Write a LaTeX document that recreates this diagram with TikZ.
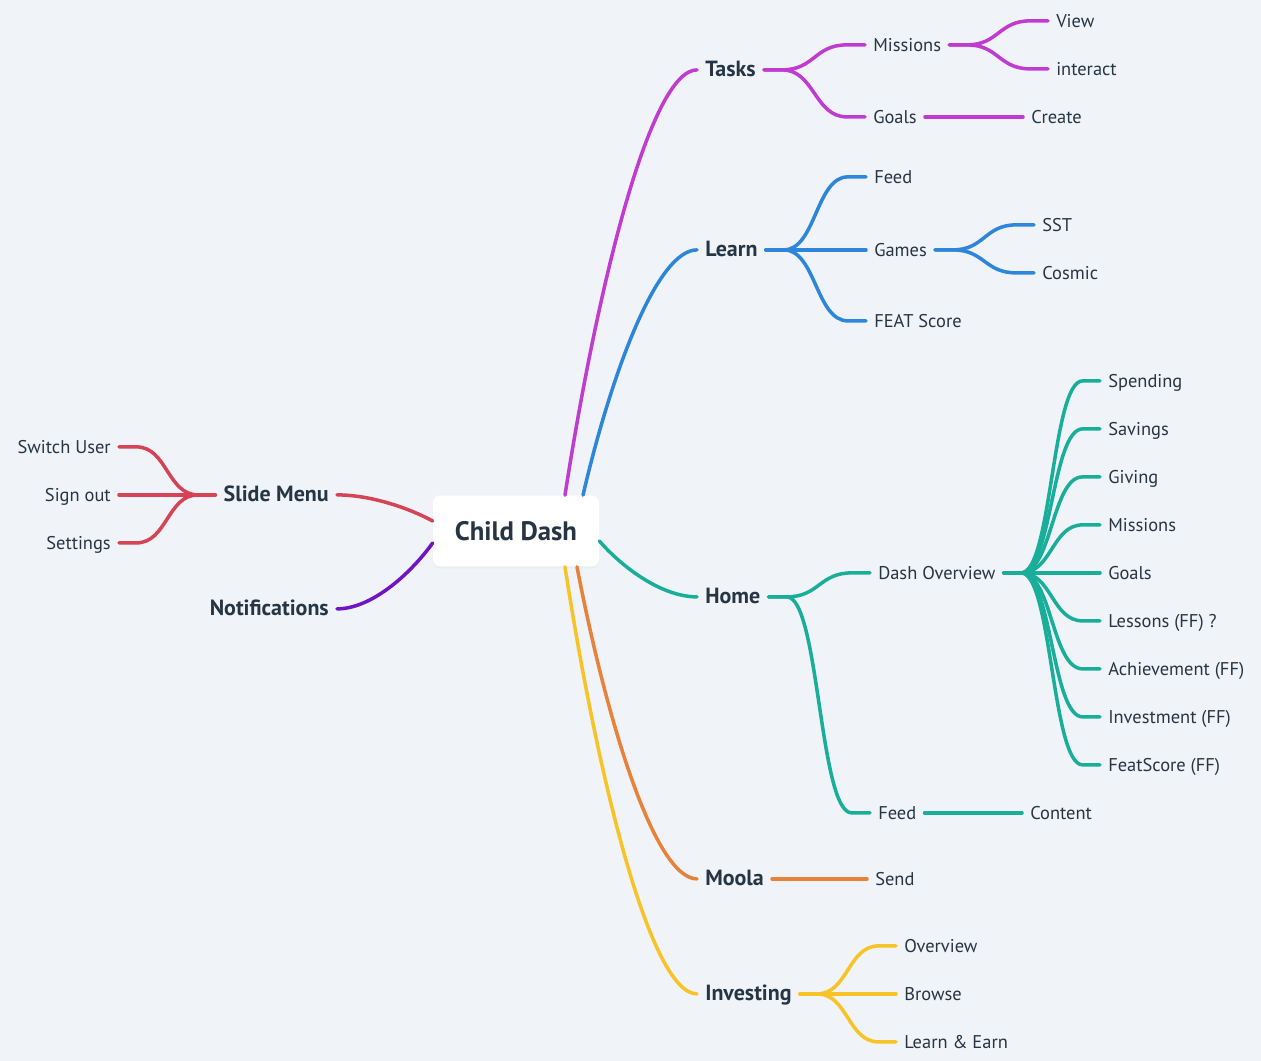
\documentclass[tikz,border=0pt]{standalone}
\usepackage{fontspec}
\setmainfont{PT Sans}
\usepackage{tikz}
\usetikzlibrary{calc}
\usetikzlibrary{shadows}
\definecolor{paper}{HTML}{F0F3F7}
\definecolor{ink}{HTML}{263544}
\definecolor{tasks}{HTML}{C03BD0}
\definecolor{learn}{HTML}{2E86DA}
\definecolor{home}{HTML}{19AE9A}
\definecolor{moola}{HTML}{E8823A}
\definecolor{investing}{HTML}{F7C326}
\definecolor{slide}{HTML}{D54456}
\definecolor{notif}{HTML}{7014C8}
\tikzset{
  root/.style={fill=white, rounded corners=4pt, minimum width=3.32cm, minimum height=1.42cm, text=ink, font=\fontsize{15.2}{17}\selectfont\bfseries, drop shadow={shadow xshift=0pt, shadow yshift=-1pt, opacity=0.06}},
  topic/.style={text=ink, inner xsep=4.5pt, inner ysep=0pt, text height=0.7em, text depth=0pt, yshift=-0.5pt, font=\fontsize{12.5}{14}\selectfont\bfseries},
  item/.style={text=ink, inner xsep=4.5pt, inner ysep=0pt, text height=0.7em, text depth=0pt, yshift=-0.5pt, font=\fontsize{10.5}{12}\selectfont},
  link/.style={line width=2pt, line cap=round},
  trunk/.style={to path={let \p1=(\tikztostart), \p2=(\tikztotarget) in .. controls (0.75*\x1+0.25*\x2, 0.5*\y1+0.5*\y2) and (0.35*\x1+0.65*\x2, \y2) .. (\p2)}},
  fork/.style={to path={let \p1=(\tikztostart), \p2=(\tikztotarget), \n1={0.18*(\x2-\x1)} in -- (\x1+\n1, \y1) .. controls (0.5*\x1+0.5*\x2, \y1) and (0.5*\x1+0.5*\x2, \y2) .. (\x2-\n1, \y2) -- (\p2)}}
}
\begin{document}
\begin{tikzpicture}[x=0.02cm, y=-0.02cm]
\path[use as bounding box, fill=paper] (0,0) rectangle (1261,1061);
\node[root] (root) at (516,531) {Child Dash};
\coordinate (rtasks) at ($(root.north)+(49,0)$);
\coordinate (rlearn) at ($(root.north)+(67,0)$);
\coordinate (rhome) at ($(root.east)+(0,10)$);
\coordinate (rmoola) at ($(root.south)+(61,0)$);
\coordinate (rinvesting) at ($(root.south)+(49,0)$);
\coordinate (rslide) at ($(root.west)+(0,-10)$);
\coordinate (rnotif) at ($(root.west)+(0,12)$);

\node[topic, anchor=west] (tasks) at (697,69) {Tasks};
\node[topic, anchor=west] (learn) at (697,249) {Learn};
\node[topic, anchor=west] (home) at (697,596) {Home};
\node[topic, anchor=west] (moola) at (697,878) {Moola};
\node[topic, anchor=west] (investing) at (697,993) {Investing};
\node[topic, anchor=east] (slidemenu) at (337,494) {Slide Menu};
\node[topic, anchor=east] (notifications) at (337,608) {Notifications};

\draw[link, tasks] (rtasks) to[trunk] (tasks.west);
\draw[link, learn] (rlearn) to[trunk] (learn.west);
\draw[link, home] (rhome) to[trunk] (home.west);
\draw[link, investing] (rinvesting) to[trunk] (investing.west);
\draw[link, moola] (rmoola) to[trunk] (moola.west);
\draw[link, slide] (rslide) to[trunk] (slidemenu.east);
\draw[link, notif] (rnotif) to[trunk] (notifications.east);

\node[item, anchor=west] (missions) at (865,44) {Missions};
\node[item, anchor=west] (goals) at (865,116) {Goals};
\node[item, anchor=west] (view) at (1048,20) {View};
\node[item, anchor=west] (interact) at (1048,68) {interact};
\node[item, anchor=west] (create) at (1023,116) {Create};
\draw[link, tasks] (tasks.east) to[fork] (missions.west);
\draw[link, tasks] (tasks.east) to[fork] (goals.west);
\draw[link, tasks] (missions.east) to[fork] (view.west);
\draw[link, tasks] (missions.east) to[fork] (interact.west);
\draw[link, tasks] (goals.east) to[fork] (create.west);

\node[item, anchor=west] (feed) at (866,176) {Feed};
\node[item, anchor=west] (games) at (866,249) {Games};
\node[item, anchor=west] (featscore) at (866,320) {FEAT Score};
\node[item, anchor=west] (sst) at (1034,224) {SST};
\node[item, anchor=west] (cosmic) at (1034,272) {Cosmic};
\draw[link, learn] (learn.east) to[fork] (feed.west);
\draw[link, learn] (learn.east) to[fork] (games.west);
\draw[link, learn] (learn.east) to[fork] (featscore.west);
\draw[link, learn] (games.east) to[fork] (sst.west);
\draw[link, learn] (games.east) to[fork] (cosmic.west);

\node[item, anchor=west] (dashoverview) at (870,572) {Dash Overview};
\node[item, anchor=west] (homefeed) at (870,812) {Feed};
\node[item, anchor=west] (content) at (1022,812) {Content};
\draw[link, home] (home.east) to[fork] (dashoverview.west);
\draw[link, home] (home.east) to[fork] (homefeed.west);
\draw[link, home] (homefeed.east) to[fork] (content.west);
\foreach \t [count=\i] in {Spending, Savings, Giving, Missions, Goals, Lessons (FF) ?, Achievement (FF), Investment (FF), FeatScore (FF)} {
  \node[item, anchor=west] (ov\i) at (1100,332+48*\i) {\t};
  \draw[link, home] (dashoverview.east) to[fork] (ov\i.west);
}

\node[item, anchor=west] (send) at (867,878) {Send};
\draw[link, moola] (moola.east) to[fork] (send.west);

\node[item, anchor=west] (overview) at (896,945) {Overview};
\node[item, anchor=west] (browse) at (896,993) {Browse};
\node[item, anchor=west] (learnearn) at (896,1041) {Learn \& Earn};
\draw[link, investing] (investing.east) to[fork] (overview.west);
\draw[link, investing] (investing.east) to[fork] (browse.west);
\draw[link, investing] (investing.east) to[fork] (learnearn.west);

\node[item, anchor=east] (switchuser) at (119,446) {Switch User};
\node[item, anchor=east] (signout) at (119,494) {Sign out};
\node[item, anchor=east] (settings) at (119,542) {Settings};
\draw[link, slide] (slidemenu.west) to[fork] (switchuser.east);
\draw[link, slide] (slidemenu.west) to[fork] (signout.east);
\draw[link, slide] (slidemenu.west) to[fork] (settings.east);
\end{tikzpicture}
\end{document}
